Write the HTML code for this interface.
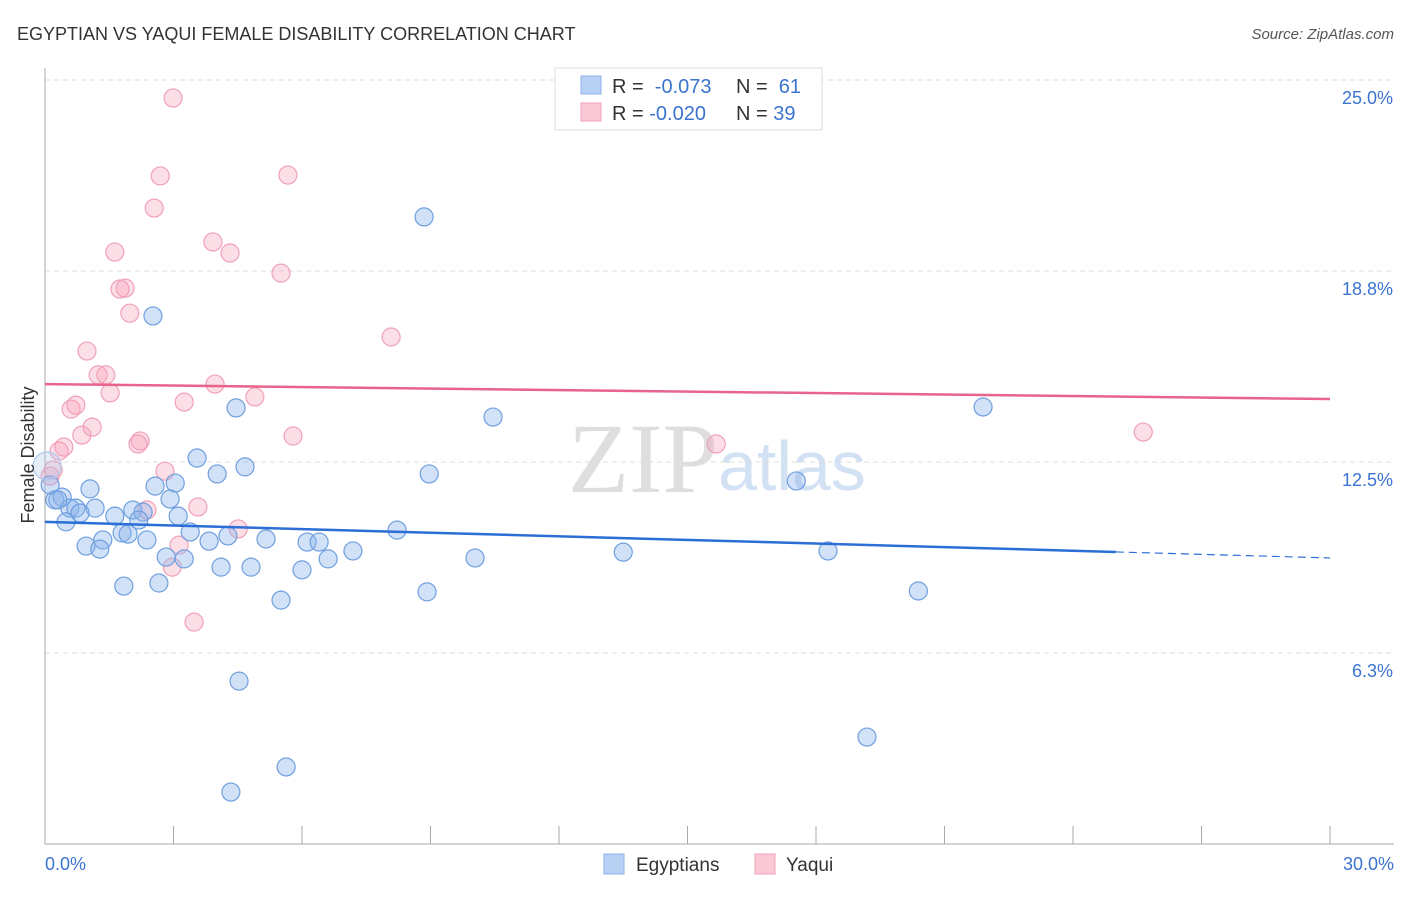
<!DOCTYPE html>
<html><head><meta charset="utf-8"><style>
body{margin:0;background:#fff;font-family:"Liberation Sans",sans-serif}
</style></head><body>
<svg id="c" width="1406" height="892" xmlns="http://www.w3.org/2000/svg" style="font-family:'Liberation Sans',sans-serif">
<text x="17" y="40" font-size="18" fill="#333">EGYPTIAN VS YAQUI FEMALE DISABILITY CORRELATION CHART</text>
<text x="1394" y="39" font-size="15" fill="#555" font-style="italic" text-anchor="end">Source: ZipAtlas.com</text>
<text x="718" y="492" font-size="100" fill="#dedede" text-anchor="end" font-family="Liberation Serif">ZIP</text>
<text x="718" y="490" font-size="70" fill="#d3e1f5">atlas</text>
<g id="grid"></g><g id="marks"></g>
<text transform="translate(34,455) rotate(-90)" font-size="18" fill="#333" text-anchor="middle">Female Disability</text>
<g>
<rect x="555" y="68" width="267" height="62" fill="#fff" stroke="#ddd"/>
<rect x="581" y="76" width="20" height="18" fill="#b7d1f5" stroke="#8cb1ea"/>
<rect x="581" y="103" width="20" height="18" fill="#fbc8d6" stroke="#f2a2b9"/>
<text x="612" y="93" font-size="20" fill="#333">R = <tspan fill="#3b73d0">&#160;-0.073</tspan><tspan x="736">N = </tspan><tspan fill="#3b73d0">&#160;61</tspan></text>
<text x="612" y="120" font-size="20" fill="#333">R = <tspan fill="#3b73d0">-0.020</tspan><tspan x="736">N = </tspan><tspan fill="#3b73d0">39</tspan></text>
</g>
<g>
<rect x="604" y="854" width="20" height="20" fill="#b7d1f5" stroke="#8cb1ea"/>
<text x="636" y="871" font-size="19" fill="#333">Egyptians</text>
<rect x="755" y="854" width="20" height="20" fill="#fbc8d6" stroke="#f2a2b9"/>
<text x="786" y="871" font-size="19" fill="#333">Yaqui</text>
</g>
</svg>
<script>
const yTicks=[6.25,12.5,18.75,25];
const yTickLabels=["6.3%","12.5%","18.8%","25.0%"];
const xTicks=[0,3,6,9,12,15,18,21,24,27,30];
const xTickLabels=["0.0%","30.0%"];
const egX=[8.85,2.52,4.46,10.46,21.90,3.55,4.67,4.02,8.97,17.54,1.05,2.57,3.04,0.23,0.40,2.92,1.17,0.58,0.72,0.82,0.49,1.63,2.05,2.29,2.19,3.11,1.80,1.35,1.94,2.38,3.39,3.83,4.27,5.16,8.22,0.96,1.28,2.83,3.25,4.11,4.81,6.12,6.40,6.61,6.00,7.19,10.04,13.50,18.28,1.84,2.66,5.51,8.92,20.39,4.53,19.19,5.63,4.34,0.12,0.30,0.05];
const egY=[20.52,17.28,14.27,13.97,14.30,12.63,12.34,12.11,12.11,11.88,11.62,11.71,11.81,11.26,11.35,11.29,10.99,10.99,10.99,10.83,10.54,10.73,10.93,10.86,10.60,10.73,10.18,9.95,10.14,9.95,10.21,9.91,10.08,9.98,10.27,9.75,9.65,9.39,9.33,9.06,9.06,9.88,9.88,9.33,8.97,9.59,9.36,9.55,9.59,8.44,8.54,7.98,8.25,8.28,5.33,3.50,2.52,1.70,11.75,11.26,12.37];
const yqX=[2.99,2.69,5.67,2.55,3.92,1.63,4.32,5.51,1.75,1.87,1.98,8.08,0.98,1.24,1.42,3.97,1.52,3.25,4.90,0.61,0.72,1.10,0.86,2.22,2.17,5.79,15.67,25.64,0.44,0.33,2.80,0.19,0.12,3.57,2.38,4.51,3.13,2.97,3.48];
const yqY=[24.41,21.86,21.89,20.81,19.70,19.37,19.34,18.68,18.16,18.19,17.37,16.59,16.13,15.35,15.35,15.05,14.76,14.46,14.63,14.23,14.36,13.64,13.38,13.19,13.09,13.35,13.09,13.48,12.99,12.86,12.20,12.24,12.04,11.03,10.93,10.31,9.78,9.06,7.26];
const egTrend=[10.54,9.36];
const yqTrend=[15.05,14.56];
const egSolidEnd=25;
const NS="http://www.w3.org/2000/svg";
const sx=v=>45+v/30*1285, sy=v=>844-v/25*764;
function mk(t,a,p){const e=document.createElementNS(NS,t);for(const k in a)e.setAttribute(k,a[k]);p.appendChild(e);return e;}
const g=document.getElementById('grid'),m=document.getElementById('marks');
yTicks.forEach((v,i)=>{
 const l=mk('line',{x1:45,x2:1394,y1:sy(v),y2:sy(v),stroke:'#ddd','stroke-dasharray':'5,4'},g);
 
 
 const t=mk('text',{x:1393,y:sy(v)+24,'font-size':18,fill:'#3b73d0','text-anchor':'end'},g);
 t.textContent=yTickLabels[i];
 
 
});
const ax=mk('line',{x1:45,x2:45,y1:68,y2:844,stroke:'#aaa'},g);


const bx=mk('line',{x1:45,x2:1394,y1:844,y2:844,stroke:'#aaa'},g);


xTicks.forEach(v=>{
 const l=mk('line',{x1:sx(v),x2:sx(v),y1:826,y2:844,stroke:'#aaa'},g);
 
 
});
const t0=mk('text',{x:45,y:870,'font-size':18,fill:'#3b73d0'},g);t0.textContent=xTickLabels[0];


const t1=mk('text',{x:1394,y:870,'font-size':18,fill:'#3b73d0','text-anchor':'end'},g);t1.textContent=xTickLabels[1];


yqX.forEach((x,i)=>{
 const c=mk('circle',{cx:sx(x),cy:sy(yqY[i]),r:9,fill:'rgba(246,160,186,0.35)',stroke:'#f0a0b8','stroke-width':1.2},m);
 
 
});
egX.forEach((x,i)=>{
 const big=i==egX.length-1;
 const c=mk('circle',{cx:sx(x),cy:sy(egY[i]),r:big?14:9,fill:big?'rgba(170,195,235,0.3)':'rgba(140,180,235,0.4)',stroke:big?'#b0c8ee':'#6f9fe0','stroke-width':1.2},m);
 
 
});
const ty=x=>egTrend[0]+(egTrend[1]-egTrend[0])*x/30;
const e1=mk('line',{x1:sx(0),y1:sy(egTrend[0]),x2:sx(egSolidEnd),y2:sy(ty(egSolidEnd)),stroke:'#2b6fd6','stroke-width':2.5},m);


const e2=mk('line',{x1:sx(egSolidEnd),y1:sy(ty(egSolidEnd)),x2:sx(30),y2:sy(egTrend[1]),stroke:'#2b6fd6','stroke-width':1.2,'stroke-dasharray':'8,5'},m);


const p1=mk('line',{x1:sx(0),y1:sy(yqTrend[0]),x2:sx(30),y2:sy(yqTrend[1]),stroke:'#e8648c','stroke-width':2.5},m);


</script>
</body></html>
